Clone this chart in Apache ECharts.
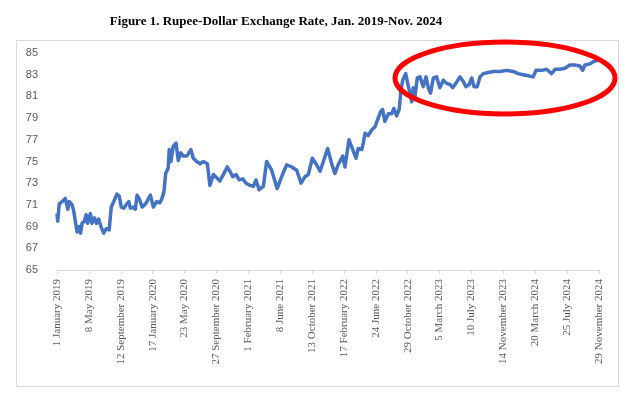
<!DOCTYPE html>
<html>
<head>
<meta charset="utf-8">
<script src="https://cdn.jsdelivr.net/npm/echarts@6/dist/echarts.min.js"></script>
<style>
html,body{margin:0;padding:0;background:#fff;}
#main{width:626px;height:393px;}
</style>
</head>
<body>
<div id="main"></div>
<script>
var titleText = 'Figure 1. Rupee-Dollar Exchange Rate, Jan. 2019-Nov. 2024';
var startDate = '2019-01-01';
var endDate = '2024-11-29';
var labelStepDays = 127;
var yMin = 65, yMax = 85, yStep = 2;
var monthNames = ['January','February','March','April','May','June','July','August','September','October','November','December'];

var dates = [
'2019-01-01','2019-01-04','2019-01-10','2019-01-21','2019-02-03','2019-02-13','2019-02-19','2019-03-02','2019-03-09','2019-03-15',
'2019-03-22','2019-03-31','2019-04-05','2019-04-11','2019-04-20','2019-04-27','2019-05-03','2019-05-14','2019-05-20','2019-05-30',
'2019-06-07','2019-06-16','2019-06-25','2019-07-06','2019-07-16','2019-07-28','2019-08-05','2019-08-15','2019-08-28','2019-09-06',
'2019-09-14','2019-09-24','2019-10-03','2019-10-14','2019-10-20','2019-10-31','2019-11-09','2019-11-16','2019-11-26','2019-12-06',
'2019-12-16','2019-12-25','2020-01-08','2020-01-20','2020-02-02','2020-02-15','2020-02-23','2020-03-02','2020-03-09','2020-03-19',
'2020-03-23','2020-03-30','2020-04-08','2020-04-19','2020-04-28','2020-05-08','2020-05-18','2020-06-01','2020-06-17','2020-06-27',
'2020-07-10','2020-07-24','2020-08-06','2020-08-22','2020-09-01','2020-09-15','2020-09-28','2020-10-11','2020-10-27','2020-11-09',
'2020-11-20','2020-12-01','2020-12-14','2020-12-27','2021-01-10','2021-01-23','2021-02-08','2021-02-21','2021-03-04','2021-03-16',
'2021-04-02','2021-04-15','2021-05-05','2021-05-27','2021-06-14','2021-07-04','2021-07-24','2021-08-13','2021-08-30','2021-09-15',
'2021-09-28','2021-10-14','2021-10-31','2021-11-14','2021-11-27','2021-12-14','2021-12-30','2022-01-12','2022-01-25','2022-02-12',
'2022-02-21','2022-03-09','2022-03-24','2022-04-06','2022-04-15','2022-04-29','2022-05-05','2022-05-12','2022-05-25','2022-06-07',
'2022-06-21','2022-06-30','2022-07-13','2022-07-21','2022-07-30','2022-08-13','2022-08-26','2022-09-04','2022-09-15','2022-09-25',
'2022-10-02','2022-10-09','2022-10-21','2022-10-29','2022-11-07','2022-11-14','2022-11-20','2022-11-27','2022-12-06','2022-12-17',
'2022-12-30','2023-01-10','2023-01-19','2023-01-28','2023-02-08','2023-02-21','2023-03-06','2023-03-20','2023-04-02','2023-04-15',
'2023-04-26','2023-05-09','2023-05-25','2023-06-07','2023-06-18','2023-07-01','2023-07-11','2023-07-20','2023-08-02','2023-08-13',
'2023-08-26','2023-09-15','2023-10-05','2023-10-31','2023-11-27','2023-12-23','2024-01-12','2024-02-01','2024-02-21','2024-03-12',
'2024-03-23','2024-04-15','2024-05-04','2024-05-24','2024-06-07','2024-06-26','2024-07-16','2024-08-05','2024-08-25','2024-09-14',
'2024-09-25','2024-10-04','2024-10-24','2024-11-06','2024-11-22','2024-11-29'
];
var rates = [
70.2,69.5,71.1,71.3,71.6,70.6,71.3,71.0,70.4,69.5,
68.5,69.0,68.4,69.3,69.5,70.1,69.3,70.2,69.3,69.8,
69.3,69.7,69.0,68.4,68.8,68.7,70.8,71.3,72.0,71.8,
70.8,70.7,71.0,71.3,70.7,70.8,70.6,71.9,71.5,70.8,
71.0,71.3,71.9,70.8,71.3,71.2,71.6,72.2,73.9,74.4,
76.1,75.0,76.4,76.7,75.1,75.8,75.5,75.5,76.1,75.3,
75.0,74.8,75.0,74.8,72.8,73.8,73.5,73.2,73.9,74.5,
74.1,73.6,73.8,73.3,73.4,73.0,72.8,72.7,73.3,72.4,
72.7,75.0,74.2,72.5,73.6,74.7,74.5,74.2,73.0,73.6,
73.8,75.3,74.7,74.1,75.0,76.2,74.8,73.9,74.7,75.5,
74.5,77.0,76.1,75.3,76.2,76.1,76.7,77.6,77.4,77.9,
78.2,78.8,79.6,79.8,78.7,79.4,79.4,79.9,79.2,79.8,
81.5,82.5,83.1,82.2,81.3,80.5,81.8,81.0,82.7,82.8,
81.9,82.8,81.8,81.3,82.7,82.8,81.8,82.5,82.2,82.1,
81.8,82.2,82.8,82.4,81.9,82.1,82.7,81.9,81.9,82.8,
83.1,83.2,83.3,83.3,83.4,83.3,83.1,83.0,82.9,82.8,
83.4,83.4,83.5,83.1,83.5,83.5,83.6,83.9,83.9,83.8,
83.4,83.9,84.0,84.2,84.3,84.4
];

var DAY = 86400000;
function toDay(s){ var p = s.split('-'); return (Date.UTC(+p[0], +p[1]-1, +p[2]) - Date.UTC(2019,0,1)) / DAY; }
var maxDay = toDay(endDate);
var seriesData = dates.map(function(d, i){ return [toDay(d), rates[i]]; });
function fmt(v){
  var t = new Date(Date.UTC(2019,0,1) + Math.round(v) * DAY);
  return t.getUTCDate() + ' ' + monthNames[t.getUTCMonth()] + ' ' + t.getUTCFullYear();
}

var chart = echarts.init(document.getElementById('main'));
chart.setOption({
  animation: false,
  backgroundColor: '#ffffff',
  title: {
    text: titleText,
    left: 271, top: 10, textAlign: 'center',
    textStyle: { fontFamily: 'Liberation Serif', fontWeight: 'bold', fontSize: 13, color: '#000' }
  },
  grid: { left: 57, right: 27, top: 53, bottom: 123, containLabel: false },
  xAxis: {
    type: 'value', min: 0, max: maxDay, interval: labelStepDays,
    axisLine: { show: true, lineStyle: { color: '#d9d9d9', width: 1 } },
    axisTick: { show: true, length: 4, lineStyle: { color: '#d9d9d9' } },
    splitLine: { show: false },
    axisLabel: {
      rotate: 90, margin: 9, formatter: fmt, showMinLabel: true, showMaxLabel: true,
      fontFamily: 'Liberation Serif', fontSize: 11, color: '#595959'
    }
  },
  yAxis: {
    type: 'value', min: yMin, max: yMax, interval: yStep,
    axisLine: { show: false }, axisTick: { show: false }, splitLine: { show: false },
    axisLabel: { margin: 19, fontFamily: 'Liberation Sans', fontSize: 11, color: '#595959' }
  },
  series: [{
    type: 'line', data: seriesData, showSymbol: false, symbol: 'none',
    lineStyle: { color: '#4472C4', width: 3.5, join: 'round' }
  }],
  graphic: [
    { type: 'rect', shape: { x: 16.5, y: 40.5, width: 602, height: 346 }, style: { fill: 'none', stroke: '#d9d9d9', lineWidth: 1 }, z: -1 },
    { type: 'ellipse', shape: { cx: 505, cy: 78, rx: 110, ry: 36 }, style: { fill: 'none', stroke: '#ff0000', lineWidth: 5 }, z: 100 }
  ]
});
</script>
</body>
</html>
